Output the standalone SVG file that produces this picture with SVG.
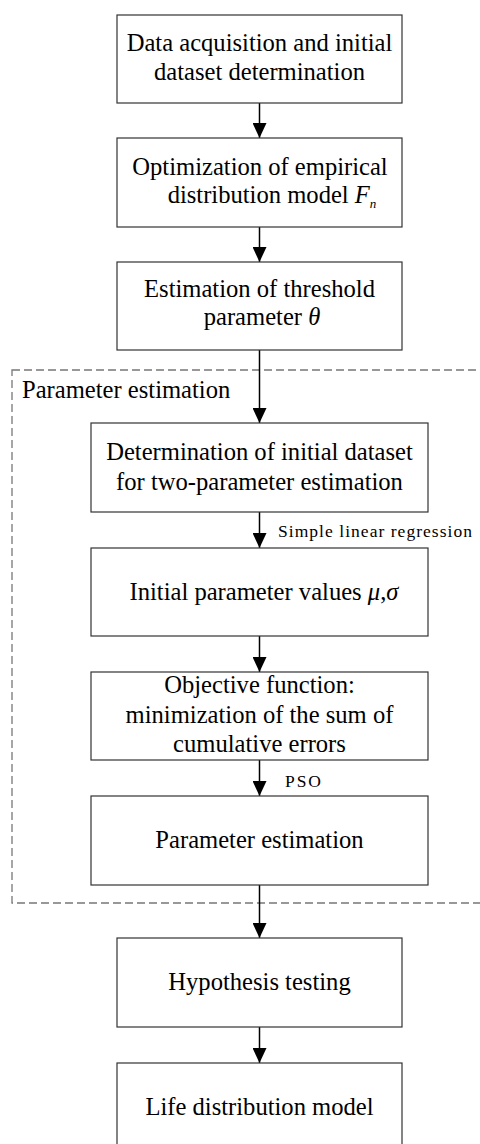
<svg xmlns="http://www.w3.org/2000/svg" width="480" height="1144" viewBox="0 0 480 1144">
<defs>
<style>
.box{fill:#fff;stroke:#333;stroke-width:1.2}
.t{font-family:"Liberation Serif","Times New Roman",serif;font-size:24.6px;fill:#000;text-anchor:middle}
.l{font-family:"Liberation Serif","Times New Roman",serif;font-size:17.5px;fill:#000}
.m{font-style:italic}
.c{stroke:#000;stroke-width:1.5;fill:none;marker-end:url(#ah)}
.dash{fill:none;stroke:#777;stroke-width:1.3;stroke-dasharray:8 4}
</style>
<marker id="ah" markerUnits="userSpaceOnUse" markerWidth="15" markerHeight="14" refX="15" refY="7" orient="auto">
<path d="M0,0 L15,7 L0,14 z" fill="#000"/>
</marker>
</defs>
<rect class="dash" x="12" y="370" width="490" height="533"/>
<text class="t" x="22" y="398" style="text-anchor:start">Parameter estimation</text>
<g id="connectors">
<line class="c" x1="259.5" y1="103" x2="259.5" y2="138"/>
<line class="c" x1="259.5" y1="227" x2="259.5" y2="262"/>
<line class="c" x1="259.5" y1="350" x2="259.5" y2="423"/>
<line class="c" x1="259.5" y1="512" x2="259.5" y2="548"/>
<text class="l" x="278" y="537" textLength="194" lengthAdjust="spacing">Simple linear regression</text>
<line class="c" x1="259.5" y1="636" x2="259.5" y2="672"/>
<line class="c" x1="259.5" y1="760" x2="259.5" y2="796"/>
<text class="l" x="285" y="787" textLength="36" lengthAdjust="spacing">PSO</text>
<line class="c" x1="259.5" y1="885" x2="259.5" y2="938"/>
<line class="c" x1="259.5" y1="1027" x2="259.5" y2="1063"/>
</g>
<g id="n1">
<rect class="box" x="117" y="15" width="285" height="88"/>
<text class="t" x="259.5" y="51">Data acquisition and initial</text>
<text class="t" x="259.5" y="80">dataset determination</text>
</g>
<g id="n2">
<rect class="box" x="117" y="138" width="285" height="89"/>
<text class="t" x="260" y="175">Optimization of empirical</text>
<text class="t" x="272" y="203">distribution model  <tspan class="m">F</tspan><tspan class="m" font-size="13" dy="5">n</tspan></text>
</g>
<g id="n3">
<rect class="box" x="117" y="262" width="285" height="88"/>
<text class="t" x="259.5" y="297">Estimation of threshold</text>
<text class="t" x="262" y="325">parameter <tspan class="m">θ</tspan></text>
</g>
<g id="n4">
<rect class="box" x="91" y="423" width="337" height="89"/>
<text class="t" x="259.5" y="460">Determination of initial dataset</text>
<text class="t" x="259.5" y="490">for two-parameter estimation</text>
</g>
<g id="n5">
<rect class="box" x="91" y="548" width="337" height="88"/>
<text class="t" x="264" y="600">Initial parameter values <tspan class="m">μ</tspan>,<tspan class="m">σ</tspan></text>
</g>
<g id="n6">
<rect class="box" x="91" y="672" width="337" height="88"/>
<text class="t" x="259.5" y="693">Objective function:</text>
<text class="t" x="259.5" y="723">minimization of the sum of</text>
<text class="t" x="259.5" y="752">cumulative errors</text>
</g>
<g id="n7">
<rect class="box" x="91" y="796" width="337" height="89"/>
<text class="t" x="259.5" y="848">Parameter estimation</text>
</g>
<g id="n8">
<rect class="box" x="117" y="938" width="285" height="89"/>
<text class="t" x="259.5" y="990">Hypothesis testing</text>
</g>
<g id="n9">
<rect class="box" x="117" y="1063" width="285" height="89"/>
<text class="t" x="259.5" y="1115">Life distribution model</text>
</g>
</svg>
